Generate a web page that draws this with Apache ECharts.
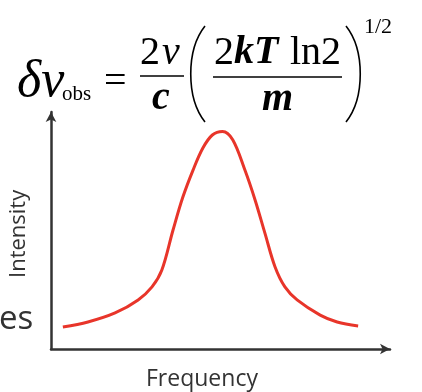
<!DOCTYPE html>
<html><head><meta charset="utf-8">
<script src="https://cdn.jsdelivr.net/npm/echarts@6/dist/echarts.min.js"></script>
<style>html,body{margin:0;padding:0;background:#fff}#c{width:422px;height:392px}</style>
</head><body><div id="c"></div>
<script>
// Frequency (arbitrary units) and intensity (arbitrary units)
const frequency = [3.5, 10.9, 18.9, 25.7, 29.8, 32.7, 36.0, 38.9, 41.9, 44.8, 47.6, 50.6, 53.6, 57.2, 60.2, 63.1, 66.1, 69.0, 72.6, 79.4, 84.4, 90.6];
const intensity = [9.3, 11.4, 15.2, 20.7, 26.2, 33.3, 50.2, 64.1, 75.5, 84.8, 90.3, 91.8, 88.3, 75.5, 62.9, 48.9, 34.6, 26.2, 20.7, 14.3, 11.4, 9.7];
const xLabel = 'Frequency';
const yLabel = 'Intensity';

const chart = echarts.init(document.getElementById('c'));
const serif = 'Liberation Serif, DejaVu Serif, serif';
const sans = 'Open Sans, Noto Sans, sans-serif';
const axisColor = '#333';

chart.setOption({
  animation: false,
  grid: {left: 51, right: 32, top: 112, bottom: 43},
  xAxis: {
    type: 'value', min: 0, max: 100,
    axisLine: {show: true, lineStyle: {color: axisColor, width: 2.5}, symbol: ['none', 'arrow'], symbolSize: [8, 10]},
    axisTick: {show: false}, axisLabel: {show: false}, splitLine: {show: false}
  },
  yAxis: {
    type: 'value', min: 0, max: 100,
    axisLine: {show: true, lineStyle: {color: axisColor, width: 2.5}, symbol: ['none', 'arrow'], symbolSize: [8, 10]},
    axisTick: {show: false}, axisLabel: {show: false}, splitLine: {show: false}
  },
  series: [{
    type: 'line', smooth: 0.35, symbol: 'none',
    data: frequency.map((f, i) => [f, intensity[i]]),
    lineStyle: {color: '#e8352a', width: 3}
  }],
  graphic: [
    {type: 'text', x: 146, y: 368, style: {text: xLabel, font: '23px ' + sans, fill: '#333'}},
    {type: 'text', x: 8, y: 278, rotation: Math.PI / 2, style: {text: yLabel, font: '22px ' + sans, fill: '#333'}},
    {type: 'text', x: -1, y: 303, style: {text: 'es', font: '33px ' + sans, fill: '#333'}},
    // formula
    {type: 'text', x: 17, y: 56, style: {text: 'δν', font: 'italic 52px ' + serif, fill: '#000'}},
    {type: 'text', x: 62, y: 84, style: {text: 'obs', font: '21px ' + serif, fill: '#000'}},
    {type: 'text', x: 104, y: 62, style: {text: '=', font: '40px ' + serif, fill: '#000'}},
    {type: 'text', x: 140, y: 33, style: {text: '2', font: '40px ' + serif, fill: '#000'}},
    {type: 'text', x: 162, y: 33, style: {text: 'ν', font: 'italic 40px ' + serif, fill: '#000'}},
    {type: 'line', shape: {x1: 140, y1: 76, x2: 184, y2: 76}, style: {stroke: '#000', lineWidth: 1.5}},
    {type: 'text', x: 152, y: 79, style: {text: 'c', font: 'italic bold 40px ' + serif, fill: '#000'}},
    {type: 'bezierCurve', shape: {x1: 205, y1: 26, x2: 205, y2: 122, cpx1: 186, cpy1: 50, cpx2: 186, cpy2: 98}, style: {stroke: '#000', lineWidth: 1.6, fill: null}},
    {type: 'bezierCurve', shape: {x1: 346, y1: 26, x2: 346, y2: 122, cpx1: 365, cpy1: 50, cpx2: 365, cpy2: 98}, style: {stroke: '#000', lineWidth: 1.6, fill: null}},
    {type: 'text', x: 214, y: 33, style: {text: '2', font: '40px ' + serif, fill: '#000'}},
    {type: 'text', x: 234, y: 33, style: {text: 'kT', font: 'italic bold 40px ' + serif, fill: '#000'}},
    {type: 'text', x: 290, y: 33, style: {text: 'ln2', font: '40px ' + serif, fill: '#000'}},
    {type: 'line', shape: {x1: 213, y1: 77, x2: 342, y2: 77}, style: {stroke: '#000', lineWidth: 1.5}},
    {type: 'text', x: 262, y: 80, style: {text: 'm', font: 'italic bold 40px ' + serif, fill: '#000'}},
    {type: 'text', x: 364, y: 16, style: {text: '1/2', font: '22px ' + serif, fill: '#000'}}
  ]
});
</script></body></html>
